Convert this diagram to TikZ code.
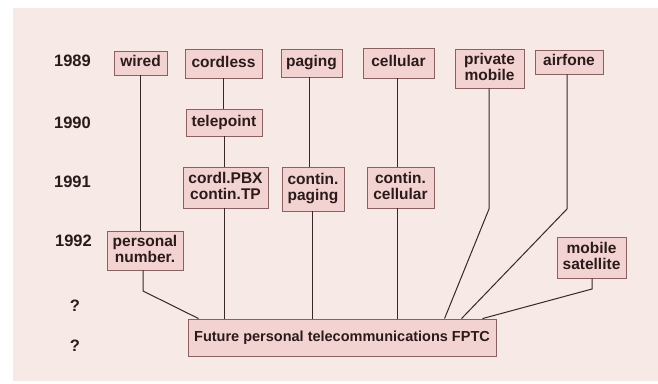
\documentclass[tikz,border=0pt]{standalone}
\usepackage{fontspec}
\setmainfont{Liberation Sans}
\definecolor{bgc}{HTML}{F6E9E6}
\definecolor{boxfill}{HTML}{F3D3D2}
\definecolor{boxline}{HTML}{8A6060}
\definecolor{linec}{HTML}{3A2626}
\definecolor{txtc}{HTML}{2A1A1A}
\newcommand\lnstrut{\vphantom{Apg}}
\tikzset{
  box/.style={draw=boxline, fill=boxfill, line width=0.9pt, inner sep=0pt, align=center,
    text=txtc, font=\fontsize{15.5}{16}\selectfont\bfseries,
    execute at begin node=\lnstrut, execute at end node=\lnstrut},
  year/.style={inner sep=0pt, text=txtc, font=\fontsize{16.5}{18}\selectfont\bfseries,
    execute at begin node=\lnstrut},
  conn/.style={draw=linec, line width=1pt}
}
\begin{document}
\begin{tikzpicture}[x=1pt,y=-1pt]
\useasboundingbox (0,0) rectangle (658,383);
\fill[bgc] (13,8) rectangle (658,381);
% years
\node[year] (y89) at (72.5,62) {1989};
\node[year] (y90) at (72.5,124) {1990};
\node[year] (y91) at (72.5,183) {1991};
\node[year] (y92) at (73.5,242) {1992};
\node[year] (yq1) at (75,307) {?};
\node[year] (yq2) at (75,347) {?};
% boxes
\node[box, minimum width=53, minimum height=24] (wired) at (140.5,63) {wired};
\node[box, minimum width=77, minimum height=29] (cordless) at (223.5,63.5) {cordless};
\node[box, minimum width=61, minimum height=28] (paging) at (311.5,63) {paging};
\node[box, minimum width=71, minimum height=30] (cellular) at (398.5,63) {cellular};
\node[box, minimum width=69, minimum height=39] (pm) at (489.5,68.5) {private\\mobile};
\node[box, minimum width=68, minimum height=24] (airfone) at (569,62) {airfone};
\node[box, minimum width=76, minimum height=27] (telepoint) at (224,122.5) {telepoint};
\node[box, minimum width=85, minimum height=41] (cordl) at (225.5,187.5) {cordl.PBX\\contin.TP};
\node[box, minimum width=62, minimum height=44] (cpaging) at (313,189) {contin.\\paging};
\node[box, minimum width=67, minimum height=41] (ccell) at (400.5,187.5) {contin.\\cellular};
\node[box, minimum width=76, minimum height=39] (pers) at (145,250.5) {personal\\number.};
\node[box, minimum width=69, minimum height=41] (msat) at (591.5,257.5) {mobile\\satellite};
\node[box, minimum width=308, minimum height=37, font=\fontsize{14.5}{16}\selectfont\bfseries] (fptc) at (342,337.5) {Future personal telecommunications FPTC};
% bend points
\coordinate (bpers) at (143,291);
\coordinate (bpm) at (489,209);
\coordinate (bair) at (567,209);
\coordinate (bms) at (592,289);
% connectors
\draw[conn] (wired.south) -- (wired.south |- pers.north);
\draw[conn] (cordless.south) -- (cordless.south |- telepoint.north);
\draw[conn] (telepoint.south) -- (telepoint.south |- cordl.north);
\draw[conn] ([xshift=-1.5pt]cordl.south) -- ([xshift=-1.5pt]cordl.south |- fptc.north);
\draw[conn] ([xshift=-2.5pt]paging.south) -- ([xshift=-2.5pt]paging.south |- cpaging.north);
\draw[conn] ([xshift=-1pt]cpaging.south) -- ([xshift=-1pt]cpaging.south |- fptc.north);
\draw[conn] ([xshift=-1.5pt]cellular.south) -- ([xshift=-1.5pt]cellular.south |- ccell.north);
\draw[conn] ([xshift=-3.5pt]ccell.south) -- ([xshift=-3.5pt]ccell.south |- fptc.north);
\draw[conn] (bpers |- pers.south) -- (bpers) -- ([xshift=11pt]fptc.north west);
\draw[conn] (bpm |- pm.south) -- (bpm) -- ([xshift=257pt]fptc.north west);
\draw[conn] (bair |- airfone.south) -- (bair) -- ([xshift=274pt]fptc.north west);
\draw[conn] (bms |- msat.south) -- (bms) -- ([xshift=295pt]fptc.north west);
\end{tikzpicture}
\end{document}
